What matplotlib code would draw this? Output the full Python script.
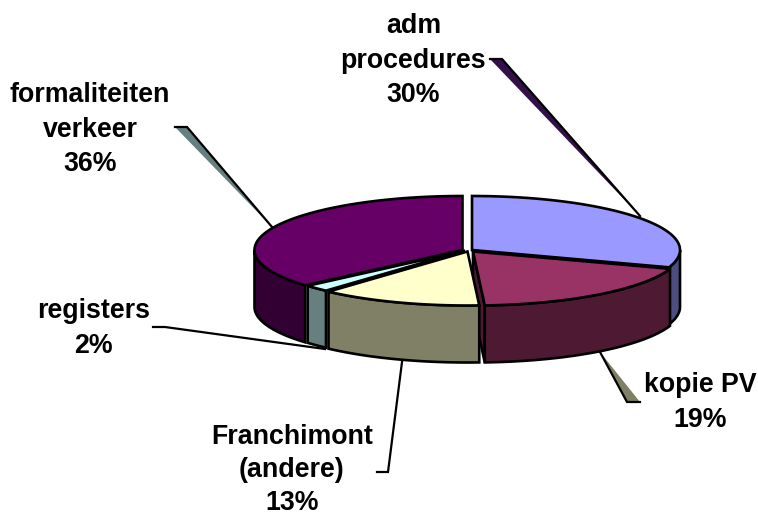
import numpy as np
import matplotlib
matplotlib.use("Agg")
import matplotlib.pyplot as plt
from matplotlib.patches import Polygon

# Data (clockwise from 12 o'clock)
categories = ["adm\nprocedures", "kopie PV", "Franchimont\n(andere)", "registers", "formaliteiten\nverkeer"]
values = [30.2, 18.9, 12.55, 2.0, 36.35]
top_colors = ["#9999FF", "#993366", "#FFFFCC", "#CCFFFF", "#660066"]
wall_colors = ["#4D4D80", "#4D1933", "#808066", "#668080", "#330033"]

# Layout (pixels)
RX, RY, DEPTH = 208, 54, 57
centers = [(472, 250), (473, 251.5), (467.5, 251.5), (465, 250.5), (462.5, 250)]
label_pos = [(413.5, 33), (700.5, 392), (292, 444.5), (93.5, 318), (90, 102)]
line_steps = [34.6, 34.6, 32.9, 34.6, 34.6]
leader_lines = [
    [(490, 59), (502, 59), (640, 216)],
    [(640, 402), (627, 402), (600, 352)],
    [(377, 472), (388, 472), (402, 362)],
    [(153, 327), (165, 327), (325, 349)],
    [(175, 127), (187, 127), (272, 227)],
]
leader_fill = ["#33104A", "#808066", None, None, "#668080"]
draw_order = [0, 4, 1, 3, 2]
LW = 1.9
LEADER_LW = 1.6

fig = plt.figure(figsize=(7.58, 5.16), dpi=100)
ax = fig.add_axes([0, 0, 1, 1])
ax.set_xlim(0, 758)
ax.set_ylim(516, 0)
ax.axis("off")


def rim(c, a, b, n=120):
    t = np.radians(np.linspace(a, b, n))
    return np.column_stack([c[0] + RX * np.sin(t), c[1] - RY * np.cos(t)])


# leader lines
for pts, fc in zip(leader_lines, leader_fill):
    if fc:
        ax.add_patch(Polygon(pts, closed=True, fc=fc, ec="none", zorder=1))
    xs, ys = zip(*pts)
    ax.plot(xs, ys, color="black", lw=LEADER_LW, zorder=1.5, solid_joinstyle="miter")

# slices
cum = np.concatenate([[0], np.cumsum(values)]) / np.sum(values) * 360
z = 2
for i in draw_order:
    a, b = cum[i], cum[i + 1]
    c = centers[i]
    # end face (only the slice that ends just before 180 deg shows it)
    if b < 180 < b + 10:
        e = rim(c, b, b, 1)[0]
        face = [c, tuple(e), (e[0], e[1] + DEPTH), (c[0], c[1] + DEPTH)]
        ax.add_patch(Polygon(face, closed=True, fc=wall_colors[i], ec="black", lw=LW, zorder=z, joinstyle="miter"))
    lo, hi = max(a, 90), min(b, 270)
    if lo < hi:
        r = rim(c, lo, hi)
        wall = np.vstack([r, (r + [0, DEPTH])[::-1]])
        ax.add_patch(Polygon(wall, closed=True, fc=wall_colors[i], ec="black", lw=LW, zorder=z, joinstyle="miter"))
    top = np.vstack([[c], rim(c, a, b)])
    ax.add_patch(Polygon(top, closed=True, fc=top_colors[i], ec="black", lw=LW, zorder=z, joinstyle="miter"))
    z += 1

# labels, one text per line so that the baselines sit exactly
for name, v, (x, y), step in zip(categories, values, label_pos, line_steps):
    lines = name.split("\n") + [f"{int(v + 0.5)}%"]
    for k, line in enumerate(lines):
        ax.text(x, y + k * step, line, ha="center", va="baseline",
                family="Liberation Sans", fontweight="bold", fontsize=19.3, color="black", zorder=20)

fig.savefig("out.png", dpi=100, facecolor="white")
